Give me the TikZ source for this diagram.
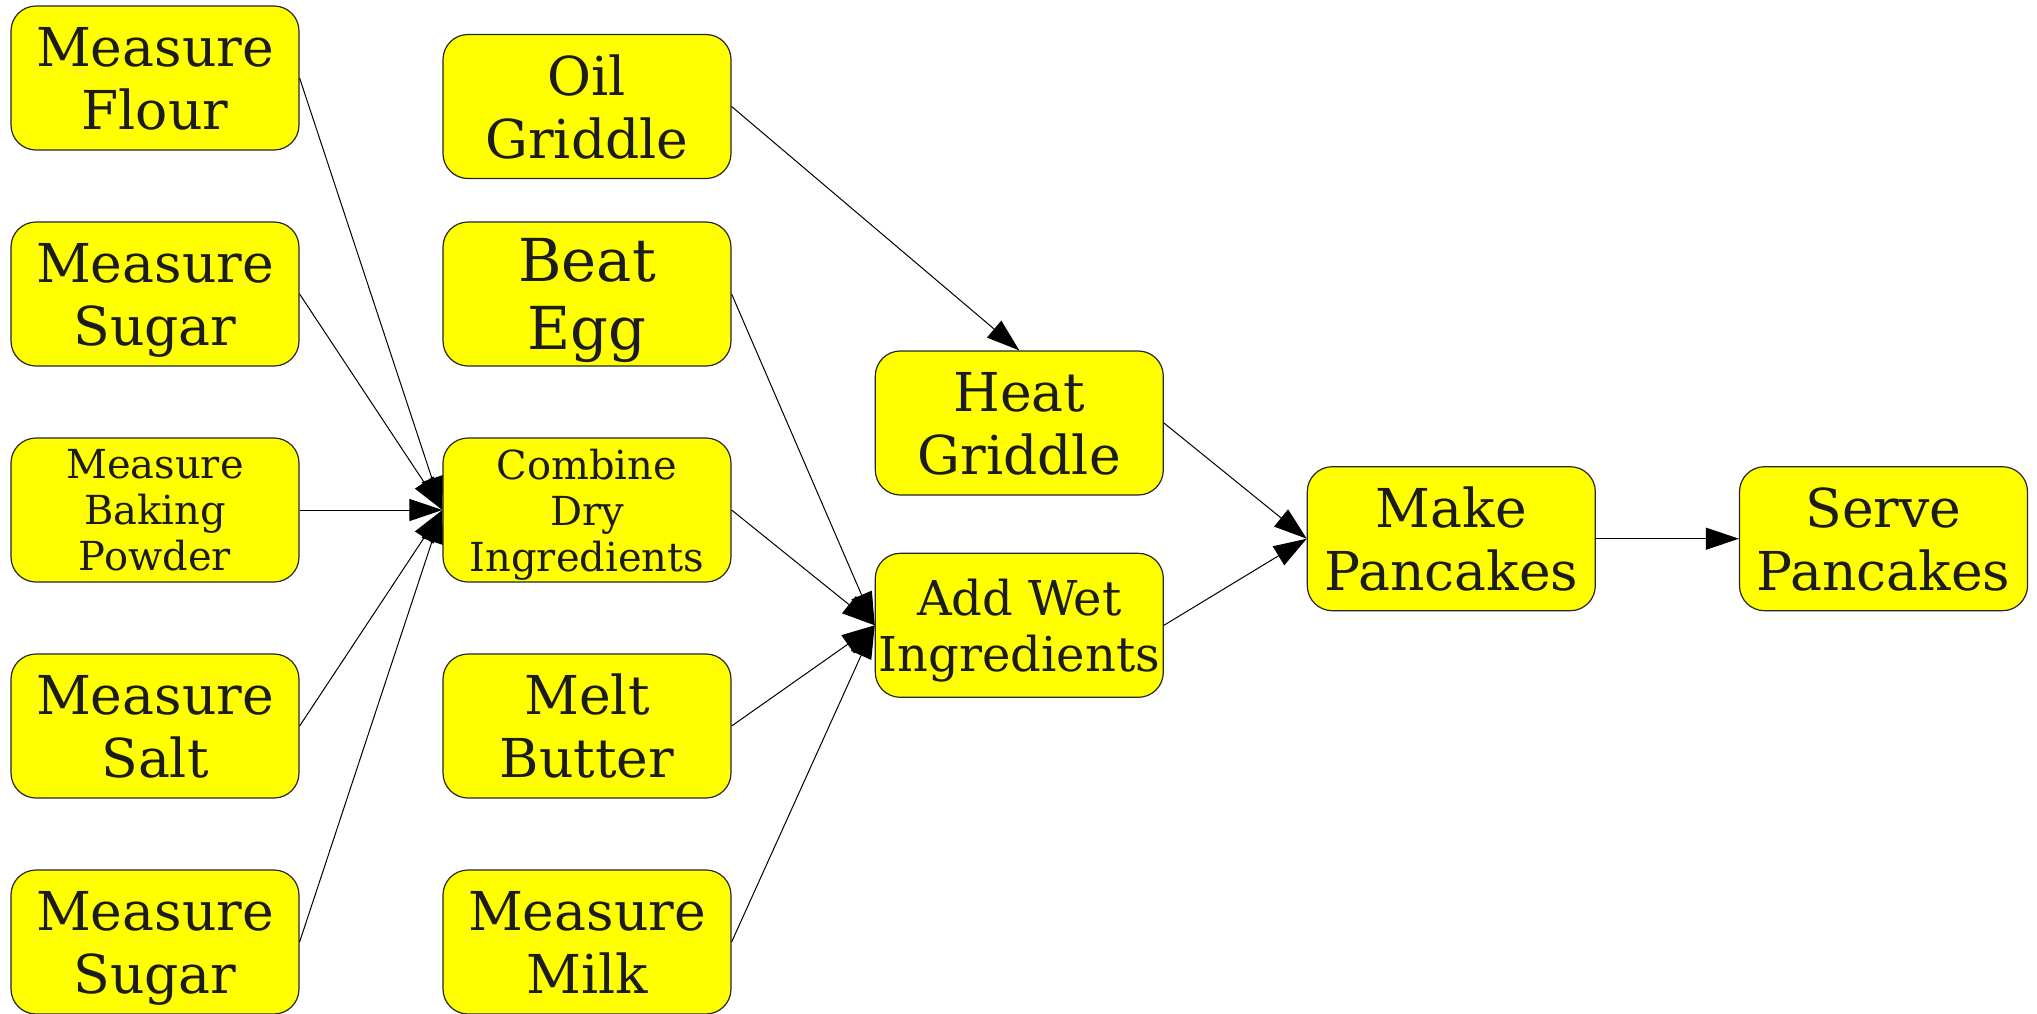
\documentclass[tikz,border=0pt]{standalone}
\usepackage{fontspec}
\setmainfont{DejaVu Serif}
\usetikzlibrary{arrows.meta}
\definecolor{boxfill}{HTML}{FFFF00}
\definecolor{inkgray}{HTML}{1C1C1C}
\begin{document}
\begin{tikzpicture}[x=0.5pt,y=-0.5pt,
  stepbox/.style={draw=black!85, line width=0.6pt, fill=boxfill, rounded corners=12.5pt,
    minimum width=144pt, minimum height=72pt, inner sep=0pt, align=center,
    text depth=0pt, text=inkgray, font=\fontsize{26.8}{31.5}\selectfont},
  bigtext/.style={font=\fontsize{29.6}{33.9}\selectfont},
  midtext/.style={font=\fontsize{24}{28}\selectfont},
  smalltext/.style={font=\fontsize{20}{23}\selectfont},
  flow/.style={draw=black, line width=0.5pt, -{Triangle[length=16.5pt,width=11pt]}}]
\useasboundingbox (0,0) rectangle (2037,1013);

% ingredients column
\node[stepbox] (flour)  at (155,78)  {Measure\\Flour};
\node[stepbox] (sugar)  at (155,294) {Measure\\Sugar};
\node[stepbox,smalltext] (powder) at (155,510) {Measure\\Baking\\Powder};
\node[stepbox] (salt)   at (155,726) {Measure\\Salt};
\node[stepbox] (sugarb) at (155,942) {Measure\\Sugar};

% preparation column
\node[stepbox] (oil)    at (587,106.5) {Oil\\Griddle};
\node[stepbox,bigtext] (egg) at (587,294) {Beat\\Egg};
\node[stepbox,smalltext] (dry) at (587,510) {Combine\\Dry\\Ingredients};
\node[stepbox] (butter) at (587,726) {Melt\\Butter};
\node[stepbox] (milk)   at (587,942) {Measure\\Milk};

% cooking
\node[stepbox] (heat) at (1019.3,423) {Heat\\Griddle};
\node[stepbox,midtext] (wet) at (1019.3,625.3) {Add Wet\\Ingredients};
\node[stepbox] (make) at (1451.3,538.7) {Make\\Pancakes};
\node[stepbox] (serve) at (1883.5,538.7) {Serve\\Pancakes};

% connectors
\foreach \src in {flour,sugar,powder,salt,sugarb}
  \draw[flow] (\src.east) -- (dry.west);
\foreach \src in {egg,dry,butter,milk}
  \draw[flow] (\src.east) -- (wet.west);
\draw[flow] (oil.east) -- (heat.north);
\draw[flow] (heat.east) -- (make.west);
\draw[flow] (wet.east) -- (make.west);
\draw[flow] (make.east) -- (serve.west);
\end{tikzpicture}
\end{document}
